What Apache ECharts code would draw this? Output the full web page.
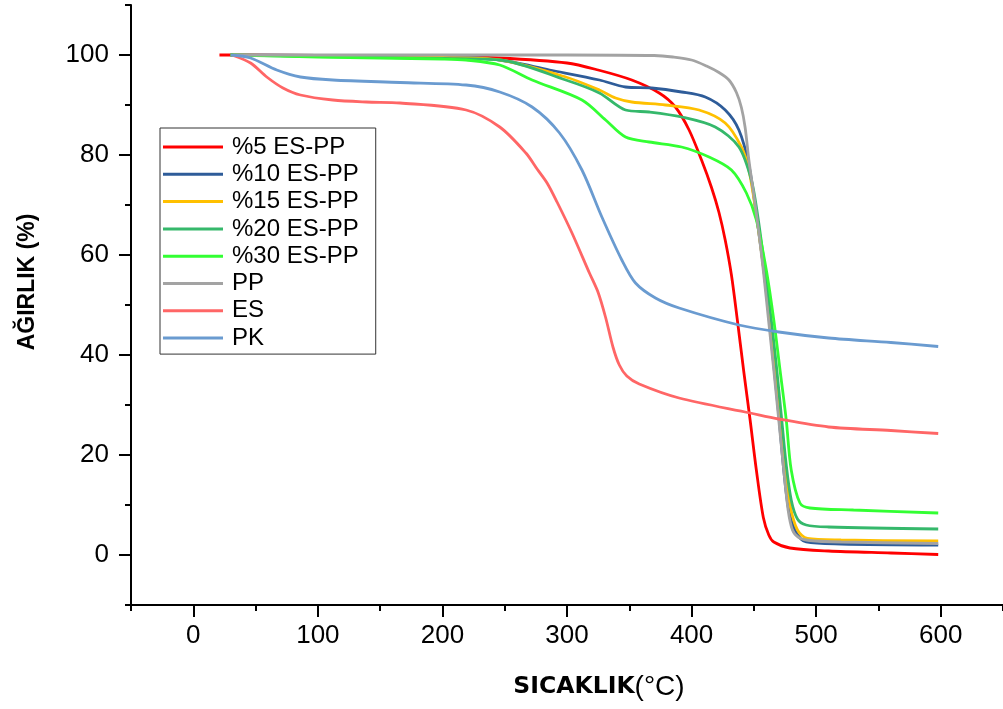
<!DOCTYPE html>
<html>
<head>
<meta charset="utf-8">
<script src="https://cdn.jsdelivr.net/npm/echarts@6/dist/echarts.min.js"></script>
<style>
html,body{margin:0;padding:0;background:#fff;}
#c{width:1003px;height:709px;}
</style>
</head>
<body>
<div id="c"></div>
<script>
// ---- data (temperature °C, weight %) ----
const seriesNames = ['%5 ES-PP','%10 ES-PP','%15 ES-PP','%20 ES-PP','%30 ES-PP','PP','ES','PK'];

const tES5  = [21,35,100,200,245,300,325,352,374,387,398,408,416,422,427,432,437,442,447,452,457.6,462,466,479,510,560,598];
const wES5  = [100,100,99.9,99.7,99.4,98.4,97,95,92.4,89.6,85,79,73.5,68.5,63,56,46.5,36.5,27,17,7.5,4,2.6,1.4,0.8,0.4,0.1];

const tES10 = [30,100,200,246,286,326,347,368,392,411,427,438,446,452,458,462,466,470,474,478,484,492,520,598];
const wES10 = [100,99.9,99.7,99,97,95,93.6,93.4,92.6,91.6,89,85,78,68,57,48,38,28,17,9,4.5,2.6,2.2,2.0];

const tES15 = [30,100,200,246,299,326,339,352,379,406,427,440,446,452,458,463,467,471,475,479,485,493,520,598];
const wES15 = [100,99.8,99.5,99,95.6,93,91.4,90.6,90,89,86.4,81.6,77,68,57,47,38,28,18,10,5,3.3,3,2.8];

const tES20 = [30,100,200,246,299,326,347,366,392,419,438,448,453,459,464,468,472,476,480,485,492,510,598];
const wES20 = [100,99.7,99.3,99,95,92.4,89,88.6,87.6,85.6,81.6,75,68,57,47,38,28,18,11,7.2,6,5.6,5.2];

const tES30 = [30,100,200,219,246,272,312,331,347,366,392,414,432,444,452,460,466,471,476,480,487,495,530,598];
const wES30 = [100,99.6,99.2,99,98,95,91,87,83.6,82.6,81.6,79.6,77,72.4,67,57,47,37,27,17,10.4,9.4,9,8.4];

const tPP   = [32,100,200,300,370,385,400,412,422,430,436,440,443,446,450,454,458,462,466,470,474,477.5,481,486,495,520,598];
const wPP   = [100,100,100,100,99.9,99.6,99,97.8,96.5,95,92.5,89.5,85.5,79,72,64.5,56,46.5,37,27,17,9,5,3.5,2.9,2.6,2.3];

const tES   = [31,46,59,72,86,112,139,166,219,246,267,276,284,292,304,318,325,331,337,342,348,358,390,447,470,510,560,598];
const wES   = [100,98.4,95.6,93.4,92,91,90.6,90.4,89,85.6,80.4,77.2,74.4,70.6,64.4,56.4,52.5,47.5,41.5,38,35.8,34.2,31.4,28.4,27.2,25.6,24.9,24.3];

const tPK   = [30,46,67,86,112,166,219,246,272,294,312,328,344,355,371,390,438,470,510,560,598];
const wPK   = [100,99.4,97,95.6,95,94.5,94,92.6,89.6,84.4,77,67.6,59,54.4,51.4,49.4,46,44.6,43.4,42.5,41.7];

const xMajorTicks = [0,100,200,300,400,500,600];
const xMinorTicks = [-50,50,150,250,350,450,550,650];
const yMajorTicks = [0,20,40,60,80,100];
const yMinorTicks = [-10,10,30,50,70,90,110];

const colors = ['#FF0000','#2E5C99','#FFC000','#35B86B','#33FF33','#A3A3A3','#FF6666','#6A9BD0'];
const temps = [tES5,tES10,tES15,tES20,tES30,tPP,tES,tPK];
const weights = [wES5,wES10,wES15,wES20,wES30,wPP,wES,wPK];

const pair = (t, w) => t.map((x, i) => [x, w[i]]);

const chart = echarts.init(document.getElementById('c'), null, {renderer: 'canvas'});
const axisFont = 'Liberation Sans';

const option = {
  backgroundColor: '#fff',
  animation: false,
  grid: {left: 131, top: 5, width: 875, height: 600, containLabel: false},
  legend: {
    orient: 'vertical',
    left: 160, top: 128,
    icon: 'rect',
    itemWidth: 60, itemHeight: 3, itemGap: 3.3,
    padding: [7, 17, 4, 3],
    borderColor: '#333', borderWidth: 1,
    textStyle: {fontSize: 24, fontFamily: axisFont, color: '#000', lineHeight: 20, padding: [0, 0, 0, 4]},
    data: seriesNames
  },
  xAxis: [{
    type: 'value', min: -50, max: 650,
    axisLine: {show: true, onZero: false, lineStyle: {color: '#000', width: 2}},
    axisTick: {show: true, inside: false, length: 12, customValues: xMajorTicks, lineStyle: {color: '#000', width: 2}},
    axisLabel: {show: true, customValues: xMajorTicks, fontSize: 26, fontFamily: axisFont, color: '#000', margin: 18},
    splitLine: {show: false}
  }, {
    type: 'value', min: -50, max: 650, position: 'bottom',
    axisLine: {show: false, onZero: false},
    axisTick: {show: true, inside: false, length: 6, customValues: xMinorTicks, lineStyle: {color: '#000', width: 2}},
    axisLabel: {show: false},
    splitLine: {show: false}
  }],
  yAxis: [{
    type: 'value', min: -10, max: 110,
    axisLine: {show: true, onZero: false, lineStyle: {color: '#000', width: 2}},
    axisTick: {show: true, inside: false, length: 12, customValues: yMajorTicks, lineStyle: {color: '#000', width: 2}},
    axisLabel: {show: true, customValues: yMajorTicks, fontSize: 26, fontFamily: axisFont, color: '#000', margin: 22},
    splitLine: {show: false}
  }, {
    type: 'value', min: -10, max: 110, position: 'left', offset: 0,
    axisLine: {show: false, onZero: false},
    axisTick: {show: true, inside: false, length: 6, customValues: yMinorTicks, lineStyle: {color: '#000', width: 2}},
    axisLabel: {show: false},
    splitLine: {show: false}
  }],
  series: seriesNames.map((name, i) => ({
    name: name,
    type: 'line',
    xAxisIndex: 0, yAxisIndex: 0,
    data: pair(temps[i], weights[i]),
    smooth: 0.3,
    symbol: 'none',
    showSymbol: false,
    color: colors[i],
    itemStyle: {color: colors[i]},
    lineStyle: {color: colors[i], width: 2.8},
    z: 2 + i
  })),
  graphic: [{
    type: 'text',
    x: 28, y: 282,
    rotation: Math.PI / 2,
    style: {
      text: 'AĞIRLIK (%)',
      fontSize: 23, fontWeight: 'bold', fontFamily: axisFont,
      fill: '#000', align: 'center', verticalAlign: 'middle'
    }
  }, {
    type: 'text',
    x: 599, y: 687,
    style: {
      text: '{b|SICAKLIK}{n|(°C)}',
      rich: {
        b: {fontSize: 23.5, fontWeight: 'bold', fontFamily: 'DejaVu Sans', fill: '#000'},
        n: {fontSize: 28, fontFamily: axisFont, fill: '#000'}
      },
      fill: '#000', align: 'center', verticalAlign: 'middle'
    }
  }]
};
chart.setOption(option);
</script>
</body>
</html>
